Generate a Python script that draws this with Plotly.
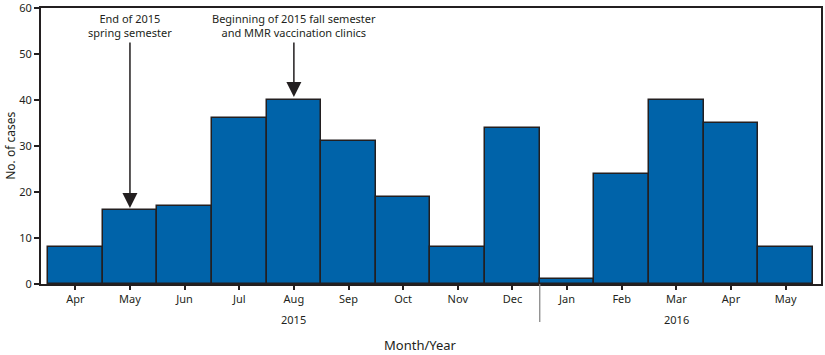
import plotly.graph_objects as go

months = ["Apr", "May", "Jun", "Jul", "Aug", "Sep", "Oct", "Nov", "Dec",
          "Jan", "Feb", "Mar", "Apr", "May"]
cases = [8, 16, 17, 36, 40, 31, 19, 8, 34, 1, 24, 40, 35, 8]
years = ["2015", "2016"]
x_pos = list(range(len(months)))

FONT = "Noto Sans"
fig = go.Figure()
fig.add_trace(go.Bar(
    x=x_pos, y=cases, width=1,
    marker=dict(color="#0063a9", line=dict(color="#231f20", width=1.5)),
    hoverinfo="y",
))

fig.update_layout(
    width=825, height=355,
    margin=dict(l=41, r=4, t=8, b=71, autoexpand=False),
    plot_bgcolor="white", paper_bgcolor="white",
    showlegend=False,
    font=dict(family=FONT, size=11, color="#231f20"),
    bargap=0,
)
fig.update_xaxes(
    range=[-0.628, 13.647], automargin=False,
    tickmode="array", tickvals=x_pos, ticktext=months,
    ticks="outside", ticklen=4, tickcolor="#231f20", tickwidth=1.5,
    showline=True, linecolor="#231f20", linewidth=2, mirror=True,
    showgrid=False, zeroline=False, ticklabeloverflow="allow",
)
fig.update_yaxes(
    range=[0, 60], dtick=10, automargin=False,
    ticks="outside", ticklen=5, tickcolor="#231f20", tickwidth=1.5,
    showline=True, linecolor="#231f20", linewidth=2, mirror=True,
    showgrid=False, zeroline=False, ticklabeloverflow="allow",
)

# axis titles
fig.add_annotation(x=0.487, y=-0.221, xref="paper", yref="paper", text="Month/Year",
                   showarrow=False, font=dict(size=13), yanchor="middle", xanchor="center")
fig.add_annotation(x=-0.04, y=0.5, xref="paper", yref="paper", text="No. of cases",
                   showarrow=False, font=dict(size=12), textangle=-90, xanchor="center",
                   yanchor="middle")

# year separator
fig.add_shape(type="line", xref="x", yref="paper", x0=8.5, x1=8.5, y0=0, y1=-0.138,
              line=dict(color="#808080", width=1.2))

# year labels
fig.add_annotation(x=4, y=-0.13, xref="x", yref="paper", text=years[0], showarrow=False,
                   font=dict(size=11), yanchor="middle")
fig.add_annotation(x=11, y=-0.13, xref="x", yref="paper", text=years[1], showarrow=False,
                   font=dict(size=11), yanchor="middle")

# event annotations
fig.add_annotation(x=1, y=16.5, xref="x", yref="y", ax=1, ay=52.8, axref="x", ayref="y",
                   text="", showarrow=True, arrowhead=2, arrowsize=2, arrowwidth=1.5,
                   arrowcolor="#231f20")
fig.add_annotation(x=1, y=56.3, xref="x", yref="y",
                   text="End of 2015<br>spring semester", showarrow=False,
                   font=dict(size=11), yanchor="middle")
fig.add_annotation(x=4, y=40.65, xref="x", yref="y", ax=4, ay=52.8, axref="x", ayref="y",
                   text="", showarrow=True, arrowhead=2, arrowsize=2, arrowwidth=1.5,
                   arrowcolor="#231f20")
fig.add_annotation(x=4, y=56.3, xref="x", yref="y",
                   text="Beginning of 2015 fall semester<br>and MMR vaccination clinics",
                   showarrow=False, font=dict(size=11), yanchor="middle")

fig.write_html("out.html", config={"displayModeBar": False},
               post_script="document.body.style.margin='0';document.body.style.overflow='hidden';")
